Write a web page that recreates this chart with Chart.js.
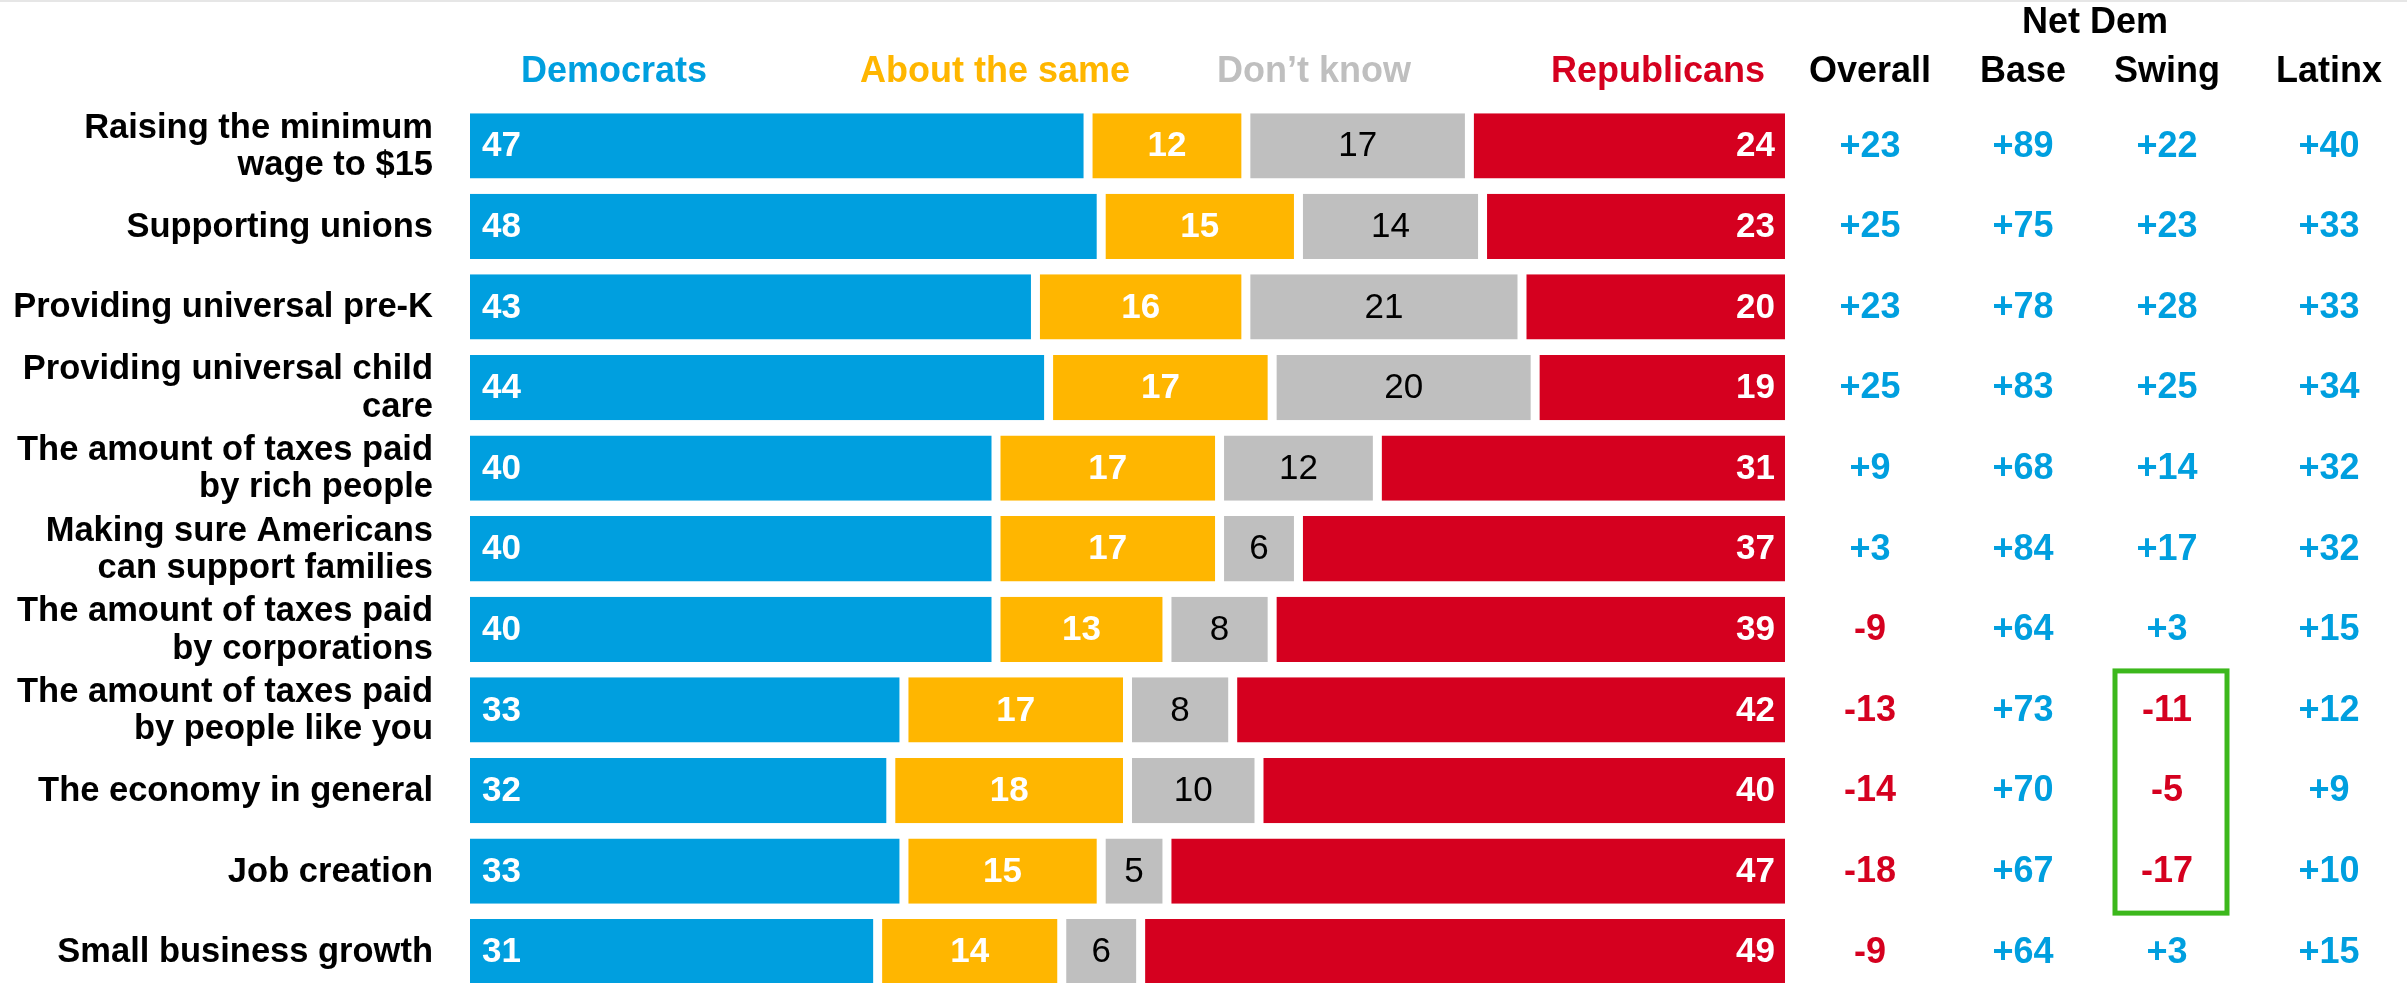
<!DOCTYPE html>
<html>
<head>
<meta charset="utf-8">
<script src="https://cdn.jsdelivr.net/npm/chart.js@4"></script>
<style>
    html, body { margin: 0; padding: 0; background: #fff; overflow: hidden; }
    #chart { display: block; position: absolute; left: 0; top: 0; }
    #topline { position: absolute; left: 0; top: 0; width: 2407px; height: 2px; background: #e6e6e6; z-index: 2; }
</style>
</head>
<body>
<div id="topline"></div>
<canvas id="chart" width="2407" height="1000"></canvas>
<script>
// 数据
const categories = [
    ['Raising the minimum', 'wage to $15'],
    'Supporting unions',
    'Providing universal pre-K',
    ['Providing universal child', 'care'],
    ['The amount of taxes paid', 'by rich people'],
    ['Making sure Americans', 'can support families'],
    ['The amount of taxes paid', 'by corporations'],
    ['The amount of taxes paid', 'by people like you'],
    'The economy in general',
    'Job creation',
    'Small business growth'
];
const democrats   = [47, 48, 43, 44, 40, 40, 40, 33, 32, 33, 31];
const aboutSame   = [12, 15, 16, 17, 17, 17, 13, 17, 18, 15, 14];
const dontKnow    = [17, 14, 21, 20, 12, 6, 8, 8, 10, 5, 6];
const republicans = [24, 23, 20, 19, 31, 37, 39, 42, 40, 47, 49];

const netOverall = [23, 25, 23, 25, 9, 3, -9, -13, -14, -18, -9];
const netBase    = [89, 75, 78, 83, 68, 84, 64, 73, 70, 67, 64];
const netSwing   = [22, 23, 28, 25, 14, 17, 3, -11, -5, -17, 3];
const netLatinx  = [40, 33, 33, 34, 32, 32, 15, 12, 9, 10, 15];

const BLUE = '#009fdf';
const GOLD = '#ffb600';
const GREY = '#bfbfbf';
const RED = '#d5001f';
const FONT = '"Liberation Sans", Arial, sans-serif';

const GAP = 4.5;

// 右侧净值列
const netColumns = [
    { title: 'Overall', x: 1870, values: netOverall },
    { title: 'Base', x: 2023, values: netBase },
    { title: 'Swing', x: 2167, values: netSwing },
    { title: 'Latinx', x: 2329, values: netLatinx }
];

const headerLabels = [
    { text: 'Democrats', x: 614, color: BLUE },
    { text: 'About the same', x: 995, color: GOLD },
    { text: 'Don\u2019t know', x: 1314, color: GREY },
    { text: 'Republicans', x: 1658, color: RED }
];

function fmt(v) {
    return (v > 0 ? '+' : '') + v;
}

const overlayPlugin = {
    id: 'overlay',
    afterDatasetsDraw(chart) {
        const ctx = chart.ctx;
        const yScale = chart.scales.y;
        ctx.save();
        ctx.textBaseline = 'middle';

        // 类别标签
        ctx.font = 'bold 34.5px ' + FONT;
        ctx.fillStyle = '#000';
        ctx.textAlign = 'right';
        chart.data.labels.forEach((label, i) => {
            const lines = Array.isArray(label) ? label : [label];
            const cy = yScale.getPixelForValue(i);
            const lh = 37.5;
            lines.forEach((line, k) => {
                ctx.fillText(line, chart.chartArea.left - 37, cy + 1 + (k - (lines.length - 1) / 2) * lh);
            });
        });

        // 柱内数值
        chart.data.datasets.forEach((ds, di) => {
            const meta = chart.getDatasetMeta(di);
            meta.data.forEach((bar, i) => {
                const v = ds.data[i];
                const left = Math.min(bar.x, bar.base);
                const right = Math.max(bar.x, bar.base);
                ctx.font = (di === 2 ? '' : 'bold ') + '35px ' + FONT;
                ctx.fillStyle = di === 2 ? '#000' : '#fff';
                if (di === 0) {
                    ctx.textAlign = 'left';
                    ctx.fillText(v, left + 12, bar.y + 1);
                } else if (di === 3) {
                    ctx.textAlign = 'right';
                    ctx.fillText(v, right - 10, bar.y + 1);
                } else {
                    ctx.textAlign = 'center';
                    ctx.fillText(v, (left + right) / 2, bar.y + 1);
                }
            });
        });

        // 表头
        ctx.font = 'bold 36px ' + FONT;
        ctx.textAlign = 'center';
        headerLabels.forEach(h => {
            ctx.fillStyle = h.color;
            ctx.fillText(h.text, h.x, 72);
        });
        ctx.fillStyle = '#000';
        ctx.fillText('Net Dem', 2095, 23);
        netColumns.forEach(col => {
            ctx.fillStyle = '#000';
            ctx.fillText(col.title, col.x, 72);
        });

        // 净值
        netColumns.forEach(col => {
            col.values.forEach((v, i) => {
                ctx.fillStyle = v < 0 ? RED : BLUE;
                ctx.fillText(fmt(v), col.x, yScale.getPixelForValue(i) + 1);
            });
        });

        // 绿色框
        const top = yScale.getPixelForValue(7) - 39;
        const bottom = yScale.getPixelForValue(9) + 42;
        ctx.strokeStyle = '#3cb81c';
        ctx.lineWidth = 5;
        ctx.strokeRect(2115, top, 112, bottom - top);

        ctx.restore();
    }
};

function makeDataset(label, data, color, position) {
    return {
        label: label,
        data: data,
        backgroundColor: color,
        borderColor: '#fff',
        borderWidth: {
            left: position === 'first' ? 0 : GAP,
            right: position === 'last' ? 0 : GAP,
            top: 0,
            bottom: 0
        },
        borderSkipped: false,
        barPercentage: 0.81,
        categoryPercentage: 1
    };
}

const chart = new Chart(document.getElementById('chart'), {
    type: 'bar',
    data: {
        labels: categories,
        datasets: [
            makeDataset('Democrats', democrats, BLUE, 'first'),
            makeDataset('About the same', aboutSame, GOLD, 'mid'),
            makeDataset('Don\u2019t know', dontKnow, GREY, 'mid'),
            makeDataset('Republicans', republicans, RED, 'last')
        ]
    },
    options: {
        indexAxis: 'y',
        responsive: false,
        animation: false,
        layout: {
            padding: { top: 105.5, bottom: 8, left: 470, right: 622 }
        },
        plugins: {
            legend: { display: false },
            tooltip: { enabled: false }
        },
        scales: {
            x: {
                stacked: true,
                min: 0,
                max: 100,
                display: false
            },
            y: {
                stacked: true,
                display: false
            }
        }
    },
    plugins: [overlayPlugin]
});
</script>
</body>
</html>
